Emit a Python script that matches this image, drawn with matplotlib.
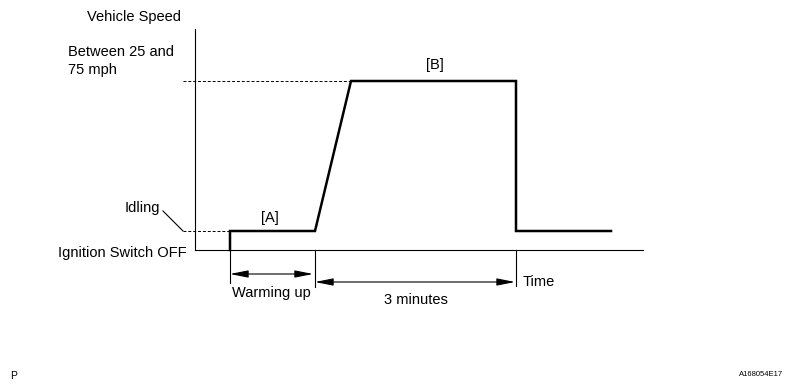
import matplotlib
matplotlib.use("Agg")
import matplotlib.pyplot as plt

plt.rcParams['font.family'] = ['Liberation Sans', 'DejaVu Sans']

# --- data (schematic units) ---
time_points = [35, 35, 120, 156, 321, 321, 416]
speed_points = [0, 19, 19, 169, 169, 19, 19]
idle_speed = 19
drive_speed = 169
t_start = 35
t_warm_end = 120
t_ramp_end = 156
t_drop = 321
axis_t_max = 448
axis_v_max = 221

fig = plt.figure(figsize=(7.9, 3.9), dpi=100)
ax = fig.add_axes([0, 0, 1, 1])
ax.set_xlim(-195, 595)
ax.set_ylim(-140, 250)
ax.axis('off')

fs = 10.5
k = 'black'

# axes
ax.plot([0, 0], [0, axis_v_max], color=k, lw=0.8)
ax.plot([0, axis_t_max], [0, 0], color=k, lw=0.8)

# speed profile
ax.plot(time_points, speed_points, color=k, lw=1.8, solid_joinstyle='miter')

# dashed reference lines
ax.plot([-12, t_start], [idle_speed, idle_speed], color=k, lw=0.7, ls=(0, (3, 2)))
ax.plot([-12, t_ramp_end], [drive_speed, drive_speed], color=k, lw=0.7, ls=(0, (3, 2)))

# Idling leader
ax.plot([-32, -12], [39, idle_speed], color=k, lw=0.8)

# vertical markers
ax.plot([t_start, t_start], [0, -33], color=k, lw=0.8)
ax.plot([t_warm_end, t_warm_end], [0, -37], color=k, lw=0.8)
ax.plot([t_drop, t_drop], [0, -36], color=k, lw=0.8)

# arrows
ap = dict(arrowstyle='<|-|>,head_length=1.1,head_width=0.22', color=k, lw=0.8,
          shrinkA=0, shrinkB=0, mutation_scale=10)
ax.annotate('', xy=(t_start, -24), xytext=(t_warm_end - 2, -24), arrowprops=ap)
ax.annotate('', xy=(t_warm_end, -32), xytext=(t_drop - 1, -32), arrowprops=ap)

# texts
ax.text(-108, 233, 'Vehicle Speed', fontsize=fs, ha='left', va='center')
ax.text(-127, 198, 'Between 25 and', fontsize=fs, ha='left', va='center')
ax.text(-127, 180, '75 mph', fontsize=fs, ha='left', va='center')
ax.text(-70, 42, 'Idling', fontsize=fs, ha='left', va='center')
ax.text(-137, -3, 'Ignition Switch OFF', fontsize=fs, ha='left', va='center')
ax.text(75, 32, '[A]', fontsize=fs, ha='center', va='center')
ax.text(240, 185, '[B]', fontsize=fs, ha='center', va='center')
ax.text(76, -43, 'Warming up', fontsize=fs, ha='center', va='center')
ax.text(221, -50, '3 minutes', fontsize=fs, ha='center', va='center')
ax.text(328, -32, 'Time', fontsize=fs, ha='left', va='center')
ax.text(-185, -126, 'P', fontsize=7.5, ha='left', va='center')
ax.text(588, -125, 'A168054E17', fontsize=5.5, ha='right', va='center')

fig.savefig('out.png', dpi=100)
